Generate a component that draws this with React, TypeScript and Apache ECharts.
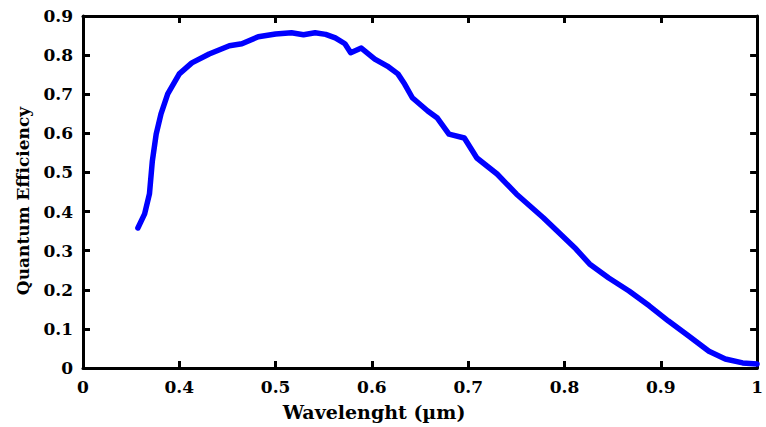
import React, { useEffect, useRef } from "react";
import * as echarts from "echarts";

const wavelength = [
  0.357, 0.364, 0.369, 0.372, 0.376, 0.381, 0.388, 0.4, 0.413, 0.431, 0.452, 0.465, 0.482,
  0.5, 0.5165, 0.529, 0.541, 0.552, 0.562, 0.572, 0.578, 0.589, 0.603, 0.616, 0.627,
  0.634, 0.642, 0.658, 0.668, 0.68, 0.696, 0.709, 0.73, 0.75, 0.778, 0.812, 0.826,
  0.846, 0.867, 0.888, 0.908, 0.929, 0.95, 0.967, 0.985, 1.0,
];
const efficiency = [
  0.358, 0.394, 0.445, 0.529, 0.598, 0.65, 0.701, 0.752, 0.78, 0.803, 0.824, 0.829, 0.847,
  0.854, 0.857, 0.852, 0.857, 0.853, 0.844, 0.829, 0.806, 0.818, 0.79, 0.772, 0.752,
  0.726, 0.691, 0.657, 0.639, 0.598, 0.588, 0.537, 0.496, 0.445, 0.384, 0.304, 0.266,
  0.23, 0.197, 0.159, 0.12, 0.082, 0.043, 0.023, 0.013, 0.01,
];
const xTitle = "Wavelenght (µm)";
const yTitle = "Quantum Efficiency";

export default function App() {
  const ref = useRef<HTMLDivElement>(null);
  useEffect(() => {
    if (!ref.current) return;
    const chart = echarts.init(ref.current, undefined, { renderer: "svg" });
    const font = { fontFamily: "DejaVu Serif", fontWeight: "bold" as const, color: "#000" };
    const axisLine = { show: true, onZero: false, lineStyle: { color: "#000", width: 3 } };
    const axisTick = { show: true, inside: true, length: 7, lineStyle: { color: "#000", width: 3 } };
    chart.setOption({
      animation: false,
      backgroundColor: "#fff",
      grid: { left: 83, right: 3, top: 16, bottom: 59 },
      graphic: [
        {
          type: "text",
          x: 374,
          y: 412,
          style: {
            text: xTitle,
            fontFamily: "DejaVu Serif",
            fontWeight: "bold",
            fontSize: 19,
            fill: "#000",
            align: "center",
            verticalAlign: "middle",
          },
        },
      ],
      xAxis: [
        {
          type: "value",
          min: 0.3,
          max: 1,
          interval: 0.1,
          axisLine,
          axisTick,
          splitLine: { show: false },
          axisLabel: {
            ...font,
            fontSize: 17,
            margin: 10,
            formatter: (v: number) => (v < 0.35 ? "0" : v > 0.99 ? "1" : v.toFixed(1)),
          },
        },
        {
          type: "value",
          position: "top",
          min: 0.3,
          max: 1,
          interval: 0.1,
          axisLine,
          axisTick,
          axisLabel: { show: false },
          splitLine: { show: false },
        },
      ],
      yAxis: [
        {
          type: "value",
          min: 0,
          max: 0.9,
          interval: 0.1,
          axisLine,
          axisTick,
          splitLine: { show: false },
          axisLabel: {
            ...font,
            fontSize: 17,
            margin: 10,
            formatter: (v: number) => (v === 0 ? "0" : v.toFixed(1)),
          },
          name: yTitle,
          nameLocation: "middle",
          nameGap: 52,
          nameTextStyle: { ...font, fontSize: 17, padding: [0, 18, 0, 0] },
        },
        {
          type: "value",
          position: "right",
          min: 0,
          max: 0.9,
          interval: 0.1,
          axisLine,
          axisTick,
          axisLabel: { show: false },
          splitLine: { show: false },
        },
      ],
      series: [
        {
          type: "line",
          data: wavelength.map((w, i) => [w, efficiency[i]]),
          showSymbol: false,
          lineStyle: { color: "#0000ff", width: 5.5, join: "round", cap: "round" },
          itemStyle: { color: "#0000ff" },
        },
      ],
    });
    return () => chart.dispose();
  }, []);
  return (
    <div
      ref={ref}
      style={{ position: "fixed", left: 0, top: 0, width: 766, height: 427, background: "#fff" }}
    />
  );
}
